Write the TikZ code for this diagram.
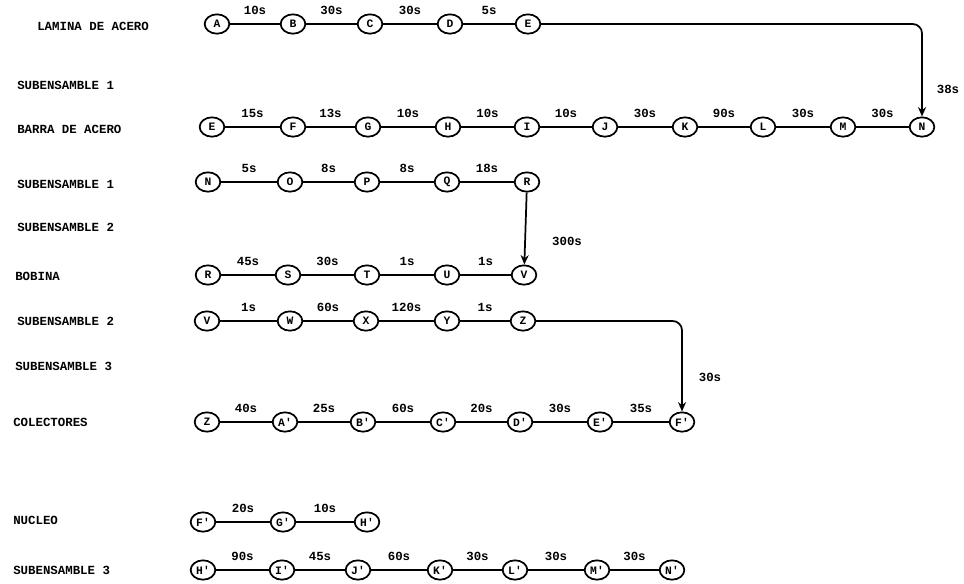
\documentclass[tikz,border=0pt]{standalone}
\usepackage{fontspec}
\setmonofont{Liberation Mono}
\usetikzlibrary{shapes.geometric,arrows.meta}
\begin{document}
\begin{tikzpicture}[x=0.75pt,y=-0.75pt,
  st/.style={ellipse,draw,line width=1.3pt,minimum width=18.5pt,minimum height=14.5pt,inner sep=0pt,font=\ttfamily\bfseries\fontsize{8.5}{9}\selectfont},
  edge/.style={line width=1.3pt},
  arr/.style={line width=1.3pt,rounded corners=7pt,-{Stealth[length=7pt,width=6pt]}},
  lbl/.style={midway,anchor=base,yshift=7pt,inner sep=0pt,font=\ttfamily\bfseries\fontsize{9.3}{10}\selectfont},
  txt/.style={anchor=west,inner sep=0pt,font=\ttfamily\bfseries\fontsize{9.3}{10}\selectfont}]
\fill[white] (0,0) rectangle (964,583);
\useasboundingbox (0,0) rectangle (964,583);
% row titles
\node[txt] (t1) at (37,26) {LAMINA DE ACERO};
\node[txt] (t2) at (17,85) {SUBENSAMBLE 1};
\node[txt] (t3) at (17,129) {BARRA DE ACERO};
\node[txt] (t4) at (17,184) {SUBENSAMBLE 1};
\node[txt] (t5) at (17,227) {SUBENSAMBLE 2};
\node[txt] (t6) at (15,276) {BOBINA};
\node[txt] (t7) at (17,321) {SUBENSAMBLE 2};
\node[txt] (t8) at (15,366) {SUBENSAMBLE 3};
\node[txt] (t9) at (13,422) {COLECTORES};
\node[txt] (t10) at (13,520) {NUCLEO};
\node[txt] (t11) at (13,570) {SUBENSAMBLE 3};
% row 1
\node[st] (a1) at (217,24) {A};
\node[st] (a2) at (293,24) {B};
\node[st] (a3) at (370,24) {C};
\node[st] (a4) at (450,24) {D};
\node[st] (a5) at (528,24) {E};
\draw[edge] (a1) -- node[lbl]{10s} (a2);
\draw[edge] (a2) -- node[lbl]{30s} (a3);
\draw[edge] (a3) -- node[lbl]{30s} (a4);
\draw[edge] (a4) -- node[lbl]{5s} (a5);
% row 2
\node[st] (b1) at (212,127) {E};
\node[st] (b2) at (293,127) {F};
\node[st] (b3) at (368,127) {G};
\node[st] (b4) at (448,127) {H};
\node[st] (b5) at (527,127) {I};
\node[st] (b6) at (605,127) {J};
\node[st] (b7) at (685,127) {K};
\node[st] (b8) at (763,127) {L};
\node[st] (b9) at (843,127) {M};
\node[st] (b10) at (922,127) {N};
\draw[edge] (b1) -- node[lbl]{15s} (b2);
\draw[edge] (b2) -- node[lbl]{13s} (b3);
\draw[edge] (b3) -- node[lbl]{10s} (b4);
\draw[edge] (b4) -- node[lbl]{10s} (b5);
\draw[edge] (b5) -- node[lbl]{10s} (b6);
\draw[edge] (b6) -- node[lbl]{30s} (b7);
\draw[edge] (b7) -- node[lbl]{90s} (b8);
\draw[edge] (b8) -- node[lbl]{30s} (b9);
\draw[edge] (b9) -- node[lbl]{30s} (b10);
\draw[arr] (a5) -- (b10.north |- a5) -- (b10.north);
\node[txt,anchor=center] (l38) at (948,89) {38s};
% row 3
\node[st] (c1) at (208,182) {N};
\node[st] (c2) at (290,182) {O};
\node[st] (c3) at (367,182) {P};
\node[st] (c4) at (447,182) {Q};
\node[st] (c5) at (527,182) {R};
\draw[edge] (c1) -- node[lbl]{5s} (c2);
\draw[edge] (c2) -- node[lbl]{8s} (c3);
\draw[edge] (c3) -- node[lbl]{8s} (c4);
\draw[edge] (c4) -- node[lbl]{18s} (c5);
% bobina
\node[st] (d1) at (208,275) {R};
\node[st] (d2) at (288,275) {S};
\node[st] (d3) at (367,275) {T};
\node[st] (d4) at (447,275) {U};
\node[st] (d5) at (524,275) {V};
\draw[edge] (d1) -- node[lbl]{45s} (d2);
\draw[edge] (d2) -- node[lbl]{30s} (d3);
\draw[edge] (d3) -- node[lbl]{1s} (d4);
\draw[edge] (d4) -- node[lbl]{1s} (d5);
\draw[arr] (c5) -- (d5);
\node[txt,anchor=center] (l300) at (567,241) {300s};
% subensamble 2
\node[st] (e1) at (207,321) {V};
\node[st] (e2) at (290,321) {W};
\node[st] (e3) at (366,321) {X};
\node[st] (e4) at (447,321) {Y};
\node[st] (e5) at (523,321) {Z};
\draw[edge] (e1) -- node[lbl]{1s} (e2);
\draw[edge] (e2) -- node[lbl]{60s} (e3);
\draw[edge] (e3) -- node[lbl]{120s} (e4);
\draw[edge] (e4) -- node[lbl]{1s} (e5);
% colectores
\node[st] (f1) at (207,422) {Z};
\node[st] (f2) at (285,422) {A'};
\node[st] (f3) at (363,422) {B'};
\node[st] (f4) at (443,422) {C'};
\node[st] (f5) at (520,422) {D'};
\node[st] (f6) at (600,422) {E'};
\node[st] (f7) at (682,422) {F'};
\draw[edge] (f1) -- node[lbl]{40s} (f2);
\draw[edge] (f2) -- node[lbl]{25s} (f3);
\draw[edge] (f3) -- node[lbl]{60s} (f4);
\draw[edge] (f4) -- node[lbl]{20s} (f5);
\draw[edge] (f5) -- node[lbl]{30s} (f6);
\draw[edge] (f6) -- node[lbl]{35s} (f7);
\draw[arr] (e5) -- (f7.north |- e5) -- (f7.north);
\node[txt,anchor=center] (l30) at (710,377) {30s};
% nucleo
\node[st] (g1) at (203,522) {F'};
\node[st] (g2) at (283,522) {G'};
\node[st] (g3) at (367,522) {H'};
\draw[edge] (g1) -- node[lbl]{20s} (g2);
\draw[edge] (g2) -- node[lbl]{10s} (g3);
% subensamble 3
\node[st] (h1) at (203,570) {H'};
\node[st] (h2) at (282,570) {I'};
\node[st] (h3) at (358,570) {J'};
\node[st] (h4) at (440,570) {K'};
\node[st] (h5) at (515,570) {L'};
\node[st] (h6) at (597,570) {M'};
\node[st] (h7) at (672,570) {N'};
\draw[edge] (h1) -- node[lbl]{90s} (h2);
\draw[edge] (h2) -- node[lbl]{45s} (h3);
\draw[edge] (h3) -- node[lbl]{60s} (h4);
\draw[edge] (h4) -- node[lbl]{30s} (h5);
\draw[edge] (h5) -- node[lbl]{30s} (h6);
\draw[edge] (h6) -- node[lbl]{30s} (h7);
\end{tikzpicture}
\end{document}
